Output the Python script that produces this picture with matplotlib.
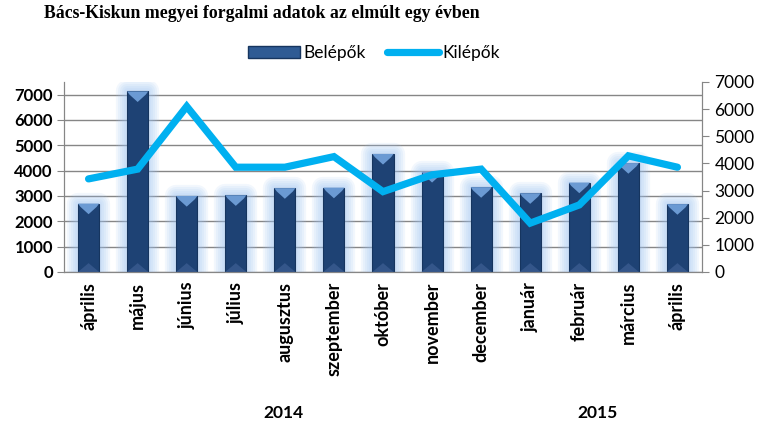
import numpy as np
import matplotlib.pyplot as plt
from matplotlib.patches import Polygon, Patch
from matplotlib.lines import Line2D

months = ['április', 'május', 'június', 'július', 'augusztus', 'szeptember',
          'október', 'november', 'december', 'január', 'február', 'március', 'április']
belepok = [2700, 7130, 3000, 3030, 3310, 3330, 4660, 3950, 3350, 3110, 3530, 4300, 2680]
kilepok = [3430, 3790, 6100, 3860, 3860, 4250, 2960, 3580, 3790, 1800, 2470, 4280, 3860]
years = ['2014', '2015']

plt.rcParams['font.family'] = ['Lato', 'DejaVu Sans']

fig = plt.figure(figsize=(7.65, 4.22), dpi=100)
ax = fig.add_axes([0.0837, 0.3555, 0.8339, 0.4502])
ax2 = ax.twinx()

x = np.arange(len(months))
w = 0.43

# soft glow behind bars
for lw in [16, 13, 10, 7, 4]:
    ax.bar(x, belepok, w, color='none', edgecolor='#9CC3F2', linewidth=lw, alpha=0.13,
           joinstyle='round', zorder=2)
ax.bar(x, belepok, w, color='#1E4274', edgecolor='#16355F', linewidth=0.8, zorder=3)

# bevel caps
for xi, h in zip(x, belepok):
    top = Polygon([(xi - w/2, h), (xi + w/2, h), (xi + w/2 - 0.05, h - 130),
                   (xi, h - 420), (xi - w/2 + 0.05, h - 130)],
                  closed=True, facecolor='#6B9AD3', edgecolor='none', zorder=4)
    bot = Polygon([(xi - w/2, 0), (xi + w/2, 0), (xi, 350)],
                  closed=True, facecolor='#34568A', edgecolor='none', zorder=4)
    ax.add_patch(top)
    ax.add_patch(bot)

ax2.plot(x, kilepok, color='#00B0F0', linewidth=5.2, solid_joinstyle='miter',
         solid_capstyle='round', zorder=5)

ax.set_xlim(-0.5, len(months) - 0.5)
ax.set_ylim(0, 7500)
ax.set_yticks(range(0, 7001, 1000))
ax2.set_ylim(0, 7000)
ax2.set_yticks(range(0, 7001, 1000))

ax.yaxis.grid(True, color='#868686', linewidth=1)
ax.set_axisbelow(True)

ax.spines['top'].set_visible(False)
ax2.spines['top'].set_visible(False)
for sp in ['left', 'right', 'bottom']:
    ax2.spines[sp].set_color('#868686')
    ax.spines[sp].set_color('#868686')

ax.set_xticks(x)
ax.set_xticklabels(months, rotation=90, fontsize=13, fontweight='bold')
ax.tick_params(axis='x', length=0, pad=7)
ax.tick_params(axis='y', length=5, color='#868686', labelsize=12, pad=3)
for lab in ax.get_yticklabels():
    lab.set_fontweight('bold')
ax2.tick_params(axis='y', length=5, color='#868686', labelsize=12.5, pad=4)

fig.text(283 / 765, 1 - 413 / 422, years[0], ha='center', va='center',
         fontsize=12.5, fontweight='bold')
fig.text(598 / 765, 1 - 413 / 422, years[1], ha='center', va='center',
         fontsize=12.5, fontweight='bold')

fig.text(262 / 765, 1 - 13 / 422, 'Bács-Kiskun megyei forgalmi adatok az elmúlt egy évben',
         ha='center', va='center', fontsize=12.8, fontweight='bold',
         family=['Liberation Serif', 'DejaVu Serif'])

handles = [Patch(facecolor='#2F5B94', edgecolor='#16355F'),
           Line2D([], [], color='#00B0F0', linewidth=5.2, solid_capstyle='round')]
fig.legend(handles, ['Belépők', 'Kilépők'], loc='center', bbox_to_anchor=(374 / 765, 1 - 53 / 422),
           ncol=2, frameon=False, fontsize=12.5, handlelength=3.0, handletextpad=0.2,
           columnspacing=1.2)

fig.savefig('out.png', dpi=100)
